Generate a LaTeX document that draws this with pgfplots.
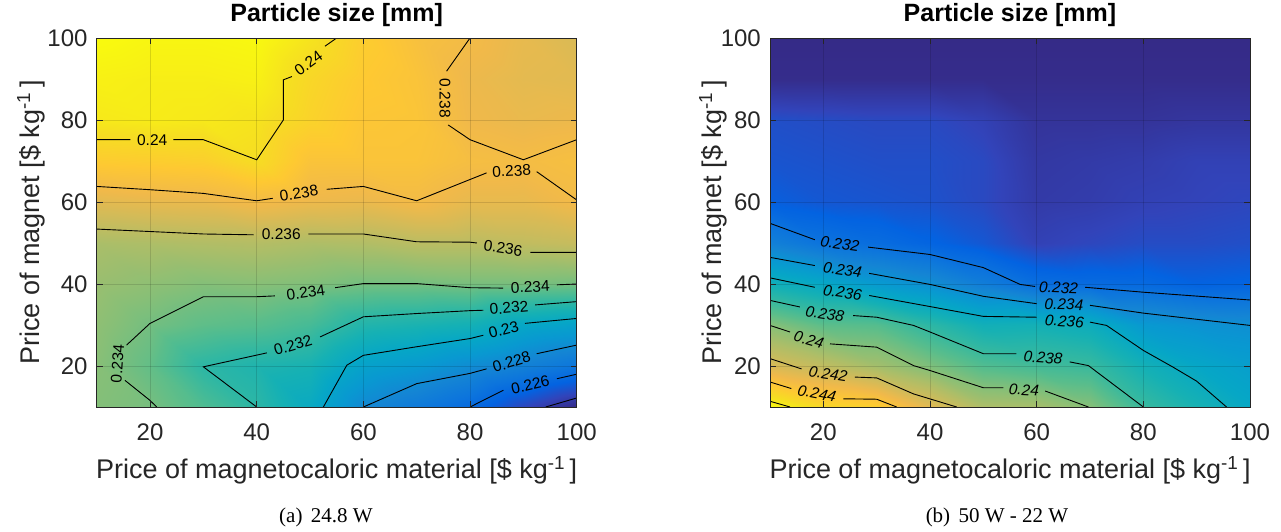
\documentclass[border=0pt]{standalone}
\usepackage{fontspec}
\setmainfont{Liberation Sans}
\newfontfamily\seriffont{Liberation Serif}
\usepackage{pgfplots}
\pgfplotsset{compat=1.18}
\usepackage{pgfplotstable}
\definecolor{axisgray}{RGB}{38,38,38}

% left: 24.8 W  (rows y=10..100, x varies 10..100)
\pgfplotstableread{
x y z
10 10 0.2344
20 10 0.2341
30 10 0.2331
40 10 0.2320
50 10 0.2303
60 10 0.2280
70 10 0.2270
80 10 0.2260
90 10 0.2245
100 10 0.2233
10 20 0.2345
20 20 0.2336
30 20 0.2320
40 20 0.2315
50 20 0.2312
60 20 0.2296
70 20 0.2290
80 20 0.2282
90 20 0.2275
100 20 0.2267
10 30 0.2347
20 30 0.2340
30 30 0.2335
40 30 0.2333
50 30 0.2328
60 30 0.2316
70 30 0.2313
80 30 0.2310
90 30 0.2300
100 30 0.2296
10 40 0.2350
20 40 0.2347
30 40 0.2344
40 40 0.2345
50 40 0.2343
60 40 0.2340
70 40 0.2340
80 40 0.2341
90 40 0.2341
100 40 0.2340
10 50 0.2355
20 50 0.2356
30 50 0.2357
40 50 0.2358
50 50 0.2356
60 50 0.2357
70 50 0.2360
80 50 0.2360
90 50 0.2362
100 50 0.2364
10 60 0.2373
20 60 0.2375
30 60 0.2376
40 60 0.2380
50 60 0.2377
60 60 0.2376
70 60 0.2380
80 60 0.2375
90 60 0.2375
100 60 0.23795
10 70 0.2391
20 70 0.2392
30 70 0.2393
40 70 0.2400
50 70 0.2386
60 70 0.2386
70 70 0.2386
80 70 0.2382
90 70 0.2381
100 70 0.2383
10 80 0.2405
20 80 0.2406
30 80 0.2405
40 80 0.2403
50 80 0.2395
60 80 0.2388
70 80 0.2387
80 80 0.2378
90 80 0.2376
100 80 0.2377
10 90 0.2408
20 90 0.2407
30 90 0.2407
40 90 0.2408
50 90 0.2397
60 90 0.2390
70 90 0.2386
80 90 0.2377
90 90 0.2374
100 90 0.2373
10 100 0.2412
20 100 0.2410
30 100 0.2410
40 100 0.2411
50 100 0.2403
60 100 0.2392
70 100 0.2384
80 100 0.2380
90 100 0.2375
100 100 0.2370
}\leftdata

% right: 50 W - 22 W
\pgfplotstableread{
x y z
10 10 0.2466
20 10 0.2452
30 10 0.2447
40 10 0.2428
50 10 0.2411
60 10 0.2409
70 10 0.2400
80 10 0.2380
90 10 0.2368
100 10 0.2357
10 20 0.2425
20 20 0.2417
30 20 0.2408
40 20 0.2398
50 20 0.2387
60 20 0.2383
70 20 0.2380
80 20 0.2366
90 20 0.2356
100 20 0.2350
10 30 0.2400
20 30 0.2390
30 30 0.2388
40 30 0.2376
50 30 0.2365
60 30 0.2366
70 30 0.2362
80 30 0.2346
90 30 0.2342
100 30 0.2340
10 40 0.2365
20 40 0.2357
30 40 0.2347
40 40 0.2340
50 40 0.2329
60 40 0.2319
70 40 0.2317
80 40 0.2316
90 40 0.2312
100 40 0.2313
10 50 0.2331
20 50 0.2322
30 50 0.2318
40 50 0.2313
50 50 0.2308
60 50 0.2300
70 50 0.2302
80 50 0.2304
90 50 0.2304
100 50 0.2305
10 60 0.2311
20 60 0.2308
30 60 0.2307
40 60 0.2306
50 60 0.2303
60 60 0.2297
70 60 0.2298
80 60 0.2300
90 60 0.2301
100 60 0.2302
10 70 0.2307
20 70 0.2306
30 70 0.2305
40 70 0.2305
50 70 0.2303
60 70 0.2296
70 70 0.2297
80 70 0.2298
90 70 0.2300
100 70 0.2300
10 80 0.2305
20 80 0.2304
30 80 0.2303
40 80 0.2303
50 80 0.2300
60 80 0.2294
70 80 0.2294
80 80 0.2294
90 80 0.2295
100 80 0.2295
10 90 0.2291
20 90 0.2291
30 90 0.2291
40 90 0.2291
50 90 0.2291
60 90 0.2291
70 90 0.2291
80 90 0.2291
90 90 0.2291
100 90 0.2291
10 100 0.2290
20 100 0.2290
30 100 0.2290
40 100 0.2290
50 100 0.2290
60 100 0.2290
70 100 0.2290
80 100 0.2290
90 100 0.2290
100 100 0.2290
}\rightdata

\pgfplotsset{
  colormap={parula}{
    rgb=(0.2081,0.1663,0.5292) rgb=(0.1959,0.2645,0.7279)
    rgb=(0.0117,0.3875,0.8820) rgb=(0.0498,0.4586,0.8641)
    rgb=(0.0793,0.5200,0.8312) rgb=(0.0343,0.5966,0.8199)
    rgb=(0.0228,0.6535,0.7768) rgb=(0.0843,0.6928,0.7062)
    rgb=(0.1990,0.7210,0.6310) rgb=(0.3482,0.7424,0.5473)
    rgb=(0.5300,0.7491,0.4661) rgb=(0.6834,0.7435,0.4044)
    rgb=(0.8185,0.7327,0.3498) rgb=(0.9450,0.7261,0.2886)
    rgb=(0.9955,0.7861,0.1967) rgb=(0.9626,0.8705,0.1309)
    rgb=(0.9763,0.9831,0.0538)},
  panel/.style={
    scale only axis, width=480pt, height=369pt, anchor=south west,
    xmin=10, xmax=100, ymin=10, ymax=100,
    xtick={20,40,60,80,100}, ytick={20,40,60,80,100},
    /pgf/number format/assume math mode=true,
    tick label style={font=\fontsize{24}{28}\selectfont, text=axisgray},
    xticklabel style={anchor=base, inner sep=0pt, yshift=-33.6pt},
    yticklabel style={anchor=east, inner sep=0pt, xshift=-9pt},
    grid=major, major grid style={black, opacity=0.13, line width=0.6pt},
    axis line style={axisgray, line width=0.8pt},
    tick style={axisgray, line width=0.8pt}, major tick length=6pt,
    axis on top,
    colormap name=parula,
    title={\bfseries Particle size [mm]},
    title style={font=\fontsize{25}{30}\selectfont, at={(0.5,1.0298)}, anchor=base},
    xlabel={Price of magnetocaloric material [\$ kg\textsuperscript{-1}\,]},
    ylabel={Price of magnet [\$ kg\textsuperscript{-1}\,]},
    label style={font=\fontsize{27}{32}\selectfont, text=axisgray},
    xlabel style={at={(0.5,-0.195)}, anchor=base},
    unbounded coords=jump,
  },
  cline/.style={black, line width=0.9pt, no markers, sharp plot},
}
\tikzset{
  lab/.style={font=\fontsize{15.5}{18}\selectfont, inner sep=0pt, text=black},
  labi/.style={font=\fontsize{15.5}{18}\selectfont\itshape, inner sep=0pt, text=black},
}

\begin{document}
\begin{tikzpicture}
\useasboundingbox (0,0) rectangle (1281pt,531pt);
% ---------------- (a) ----------------
\begin{axis}[panel, at={(96.7pt,124pt)},
  ylabel style={at={(-0.12,0.5)}, anchor=base},
  point meta min=0.2233, point meta max=0.2412]
\addplot[surf, shader=interp, mesh/rows=10, mesh/cols=10, point meta=explicit]
  table[x=x, y=y, meta=z] {\leftdata};
% 0.24
\addplot[cline] coordinates {(10,75.2) (16.3,75.2) (nan,nan) (24.4,75.2) (30,75.2) (40,70.3) (45,80) (45,89.8) (46.6,90.6) (nan,nan) (52.8,98) (55,100)};
% 0.238 upper
\addplot[cline] coordinates {(80,100) (75.6,91.9) (nan,nan) (75.9,78.8) (80,75.2) (90,70.3) (100,75.2)};
% 0.238 lower
\addplot[cline] coordinates {(10,63.8) (20,63) (30,62.1) (40,60.3) (43,60.9) (nan,nan) (53.1,63.1) (60,63.8) (70,60.3) (83.1,67.1) (nan,nan) (92.5,67.4) (100,60.5)};
% 0.236
\addplot[cline] coordinates {(10,53.4) (20,52.8) (30,52.2) (39.4,52) (nan,nan) (49.7,52.2) (60,52.2) (70,50.3) (80,50.2) (81.3,50) (nan,nan) (91.3,47.7) (100,47.7)};
% 0.234
\addplot[cline] coordinates {(15.6,25.1) (20,30.4) (30,36.9) (40,36.9) (43.4,37.1) (nan,nan) (54.7,39.1) (60,40.1) (70,40.1) (80,39.1) (86.2,39) (nan,nan) (96.3,39.8) (100,40)};
\addplot[cline] coordinates {(15.3,16.5) (20,11.6) (21.25,10)};
% 0.232
\addplot[cline] coordinates {(40,10) (30,19.8) (41.9,23.2) (nan,nan) (51.9,27.1) (60,32) (70,32.8) (80,33.5) (82.5,33.6) (nan,nan) (92.2,34.9) (100,35.7)};
% 0.23
\addplot[cline] coordinates {(52.5,10) (56.9,20.2) (60,22.6) (70,24.7) (80,26.7) (82.5,27.5) (nan,nan) (90.3,30.4) (100,31.6)};
% 0.228
\addplot[cline] coordinates {(60,10) (70,15.7) (80,18.2) (83.1,19.3) (nan,nan) (92.5,23) (100,25.1)};
% 0.226
\addplot[cline] coordinates {(80,10) (86.25,14.1) (nan,nan) (96.3,16.9) (100,18)};
% 0.224
\addplot[cline] coordinates {(94.2,10) (100,12.2)};
% labels
\node[lab, rotate=36] at (axis cs:49.7,93.9) {0.24};
\node[lab] at (axis cs:20.4,75.2) {0.24};
\node[lab, rotate=-90] at (axis cs:75.3,85.3) {0.238};
\node[lab, rotate=9] at (axis cs:47.9,62.1) {0.238};
\node[lab, rotate=3] at (axis cs:87.8,67.6) {0.238};
\node[lab] at (axis cs:44.6,52.1) {0.236};
\node[lab, rotate=-9] at (axis cs:86.2,48.7) {0.236};
\node[lab, rotate=8] at (axis cs:49.2,37.9) {0.234};
\node[lab, rotate=3] at (axis cs:91.3,39.3) {0.234};
\node[lab, rotate=86] at (axis cs:13.9,20.6) {0.234};
\node[lab, rotate=17] at (axis cs:46.8,25.1) {0.232};
\node[lab, rotate=5] at (axis cs:87.3,34.2) {0.232};
\node[lab, rotate=15] at (axis cs:86.3,28.8) {0.23};
\node[lab, rotate=17] at (axis cs:87.8,21.0) {0.228};
\node[lab, rotate=13] at (axis cs:91.3,15.5) {0.226};
\end{axis}
% ---------------- (b) ----------------
\begin{axis}[panel, at={(770pt,124pt)},
  ylabel style={at={(-0.102,0.5)}, anchor=base},
  point meta min=0.2290, point meta max=0.2466]
\addplot[surf, shader=interp, mesh/rows=10, mesh/cols=10, point meta=explicit]
  table[x=x, y=y, meta=z] {\rightdata};
% 0.232
\addplot[cline] coordinates {(10,54.8) (18.4,50.8) (nan,nan) (28.4,49) (40,47.2) (50,44) (56.9,39.9) (59.7,39.4) (nan,nan) (69.1,39.2) (80,38) (100,36.1)};
% 0.234
\addplot[cline] coordinates {(10,46.5) (18.4,44.5) (nan,nan) (28.6,42.6) (40,39.9) (50,37) (60,35.2) (nan,nan) (70,34.8) (80,32.9) (100,29.9)};
% 0.236
\addplot[cline] coordinates {(10,41.5) (18.4,39.2) (nan,nan) (28.6,37.2) (40,34.5) (50,32.1) (60,31.9) (nan,nan) (70,30.7) (73.1,29.9) (80,23.8) (85.6,19.7) (90,16.3) (95.6,10)};
% 0.238
\addplot[cline] coordinates {(10,36) (15.6,34.4) (nan,nan) (25.6,32.3) (30,31.9) (36.9,29.9) (40,28.3) (50,23) (56.2,23) (nan,nan) (66.2,21) (69.7,20.1) (80,10)};
% 0.24
\addplot[cline] coordinates {(10,29.9) (13.75,28.3) (nan,nan) (21.25,25.4) (30,24.6) (36.9,20.1) (40,18.9) (50,14.7) (53.75,14.7) (nan,nan) (61.6,13.9) (69.7,10)};
% 0.242
\addplot[cline] coordinates {(10,21.8) (15.9,19.3) (nan,nan) (25.9,17.3) (30,17.1) (36.9,13.2) (45,10)};
% 0.244
\addplot[cline] coordinates {(10,16.1) (14,14.5) (nan,nan) (23.75,12) (30,11.9) (33.75,10)};
% 0.246
\addplot[cline] coordinates {(10,11.4) (13.75,10)};
% labels
\node[labi, rotate=-8] at (axis cs:23.1,49.8) {0.232};
\node[labi, rotate=-8] at (axis cs:23.6,43.5) {0.234};
\node[labi, rotate=-8] at (axis cs:23.6,37.9) {0.236};
\node[labi, rotate=-9] at (axis cs:20.3,32.7) {0.238};
\node[labi, rotate=-16] at (axis cs:17.3,26.4) {0.24};
\node[labi, rotate=-9] at (axis cs:20.9,18.1) {0.242};
\node[labi, rotate=-11] at (axis cs:18.8,13.3) {0.244};
\node[labi, rotate=-2] at (axis cs:64.1,39.1) {0.232};
\node[labi, rotate=-1] at (axis cs:65.1,35.0) {0.234};
\node[labi, rotate=-4] at (axis cs:65.2,30.9) {0.236};
\node[labi, rotate=-4] at (axis cs:61.2,22.0) {0.238};
\node[labi, rotate=-3] at (axis cs:57.6,14.2) {0.24};
\end{axis}
% captions
\node[font=\seriffont\fontsize{21}{25}\selectfont, anchor=base] at (326pt,9pt) {(a)\hspace{0.4em}24.8 W};
\node[font=\seriffont\fontsize{21}{25}\selectfont, anchor=base] at (997pt,9pt) {(b)\hspace{0.4em}50 W - 22 W};
\end{tikzpicture}
\end{document}
